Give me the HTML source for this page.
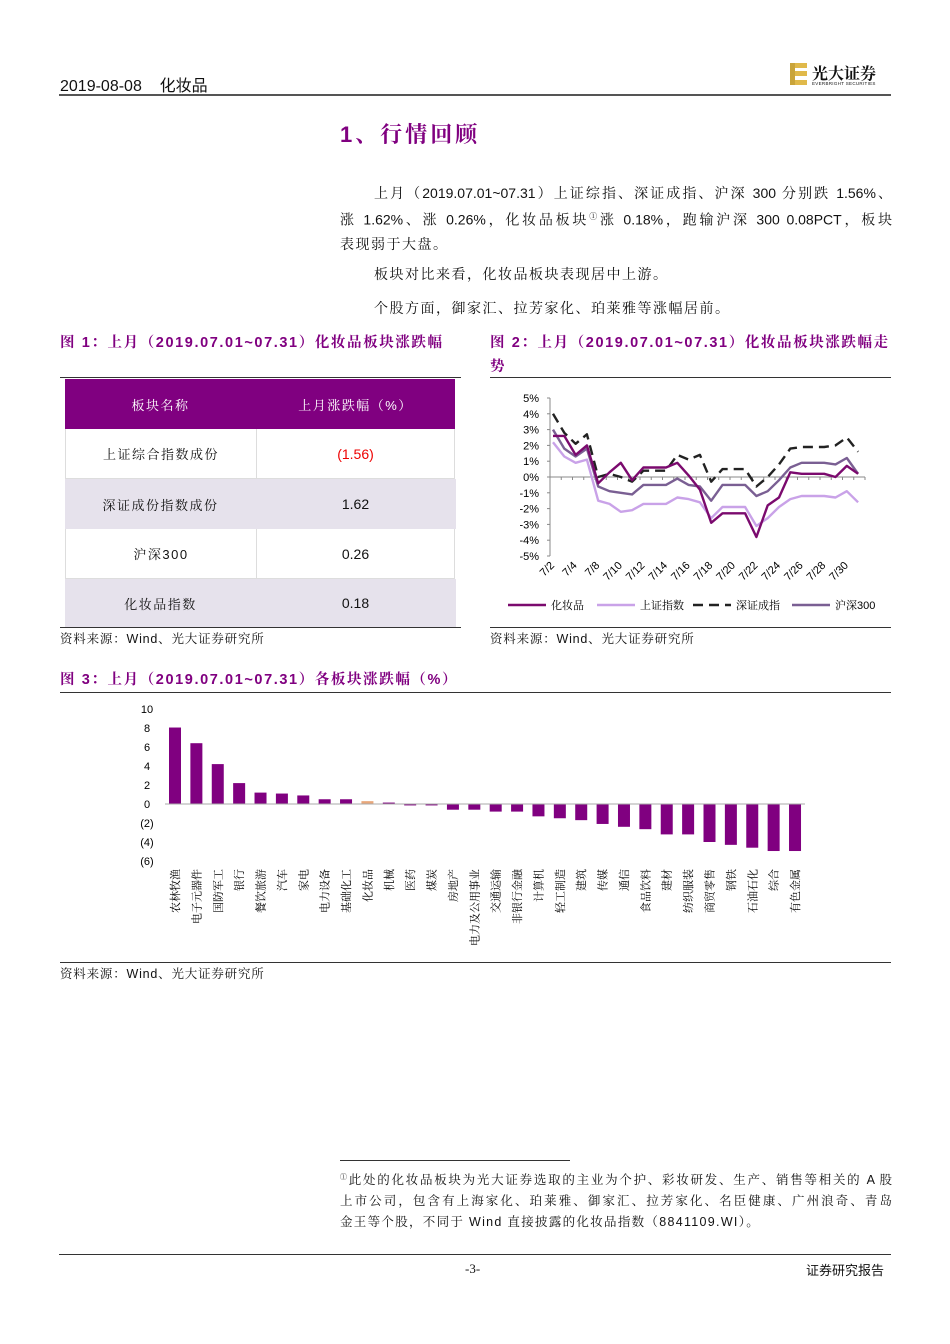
<!DOCTYPE html>
<html><head><meta charset="utf-8">
<style>
body{margin:0;background:#fff;}
#page{position:relative;width:950px;height:1344px;background:#fff;font-family:"Liberation Sans","Noto Serif CJK SC",serif;color:#111;overflow:hidden;}
.abs{position:absolute;}
.body{font-size:14px;line-height:24px;font-family:"Liberation Sans","Noto Serif CJK SC",serif;}
.jl{display:block;text-align:justify;text-align-last:justify;white-space:nowrap;}
.cap{font-size:14.5px;font-weight:bold;color:#800080;font-family:"Liberation Sans","Noto Serif CJK SC",serif;letter-spacing:1.6px;}
.src{font-size:12.5px;font-family:"Liberation Sans","Noto Serif CJK SC",serif;letter-spacing:0.8px;}
.cell{position:absolute;display:flex;align-items:center;justify-content:center;font-size:13px;letter-spacing:1.5px;}
</style></head><body>
<div id="page">
<div class="abs" style="left:60px;top:72px;font-size:16px;font-family:'Liberation Sans','Noto Sans CJK SC',sans-serif;">2019-08-08&nbsp;&nbsp;&nbsp; 化妆品</div>
<div class="abs" style="left:59px;top:94px;width:832px;height:2px;background:#555;"></div>
<div class="abs" style="left:790px;top:61px;width:100px;height:28px;">
 <div class="abs" style="left:0;top:2px;width:5px;height:22px;background:#c9a43a"></div>
 <div class="abs" style="left:5px;top:2px;width:12px;height:5px;background:#e0b94a"></div>
 <div class="abs" style="left:5px;top:10px;width:12px;height:5px;background:#e0b94a"></div>
 <div class="abs" style="left:5px;top:19px;width:12px;height:5px;background:#e0b94a"></div>
 <div class="abs" style="left:22px;top:0;font-size:16px;font-weight:bold;font-family:'Noto Serif CJK SC',serif;">光大证券</div>
 <div class="abs" style="left:22px;top:20px;font-size:4.5px;letter-spacing:0.3px;">EVERBRIGHT SECURITIES</div>
</div>
<div class="abs" style="left:340px;top:118px;font-size:22px;font-weight:bold;color:#800080;letter-spacing:3px;font-family:'Liberation Sans','Noto Serif CJK SC',serif;">1、行情回顾</div>
<div class="abs body" style="left:340px;top:181px;width:552px;">
 <span class="jl" style="padding-left:34px;">上月（2019.07.01~07.31）上证综指、深证成指、沪深 300 分别跌 1.56%、</span>
 <span class="jl">涨 1.62%、涨 0.26%，化妆品板块<sup style="font-size:8px">①</sup>涨 0.18%，跑输沪深 300 0.08PCT，板块</span>
 <span style="display:block;letter-spacing:1.5px;">表现弱于大盘。</span>
</div>
<div class="abs body" style="left:374px;top:262px;letter-spacing:1.5px;">板块对比来看，化妆品板块表现居中上游。</div>
<div class="abs body" style="left:374px;top:296px;letter-spacing:1.5px;">个股方面，御家汇、拉芳家化、珀莱雅等涨幅居前。</div>

<div class="abs cap" style="left:60px;top:331px;">图 1：上月（2019.07.01~07.31）化妆品板块涨跌幅</div>
<div class="abs cap" style="left:490px;top:331px;width:402px;line-height:24px;">图 2：上月（2019.07.01~07.31）化妆品板块涨跌幅走势</div>
<div class="abs" style="left:60px;top:377px;width:401px;height:1px;background:#333"></div>
<div class="abs" style="left:490px;top:377px;width:401px;height:1px;background:#333"></div>

<div class="abs" style="left:65px;top:379px;width:390px;height:248px;">
 <div class="cell" style="left:0;top:0;width:191px;height:50px;background:#800080;color:#fff;">板块名称</div>
 <div class="cell" style="left:191px;top:0;width:199px;height:50px;background:#800080;color:#fff;">上月涨跌幅（%）</div>
 <div class="cell" style="left:0;top:50px;width:190px;height:49px;border:1px solid #ddd;border-top:none;">上证综合指数成份</div>
 <div class="cell" style="left:191px;top:50px;width:197px;height:49px;border:1px solid #ddd;border-top:none;color:#e00;font-size:14px;letter-spacing:0;">(1.56)</div>
 <div class="cell" style="left:0;top:100px;width:391px;height:50px;background:#e6e2ec;"></div>
 <div class="cell" style="left:0;top:100px;width:191px;height:50px;">深证成份指数成份</div>
 <div class="cell" style="left:191px;top:100px;width:199px;height:50px;font-size:14px;letter-spacing:0;">1.62</div>
 <div class="cell" style="left:0;top:150px;width:190px;height:49px;border:1px solid #ddd;border-top:none;">沪深300</div>
 <div class="cell" style="left:191px;top:150px;width:197px;height:49px;border:1px solid #ddd;border-top:none;font-size:14px;letter-spacing:0;">0.26</div>
 <div class="cell" style="left:0;top:200px;width:391px;height:48px;background:#e6e2ec;"></div>
 <div class="cell" style="left:0;top:200px;width:191px;height:48px;">化妆品指数</div>
 <div class="cell" style="left:191px;top:200px;width:199px;height:48px;font-size:14px;letter-spacing:0;">0.18</div>
</div>
<div class="abs" style="left:60px;top:627px;width:401px;height:1px;background:#333"></div>
<div class="abs" style="left:490px;top:627px;width:401px;height:1px;background:#333"></div>
<div class="abs src" style="left:60px;top:629px;">资料来源：Wind、光大证券研究所</div>
<div class="abs src" style="left:490px;top:629px;">资料来源：Wind、光大证券研究所</div>

<svg class="abs" style="left:0;top:0" width="950" height="1344" id="lc"></svg>

<div class="abs cap" style="left:60px;top:668px;">图 3：上月（2019.07.01~07.31）各板块涨跌幅（%）</div>
<div class="abs" style="left:60px;top:692px;width:831px;height:1px;background:#333"></div>
<div class="abs" style="left:60px;top:962px;width:831px;height:1px;background:#333"></div>
<div class="abs src" style="left:60px;top:964px;">资料来源：Wind、光大证券研究所</div>

<div class="abs" style="left:340px;top:1160px;width:230px;height:1px;background:#333"></div>
<div class="abs" style="left:340px;top:1167px;width:552px;font-size:12.5px;line-height:21px;">
 <span class="jl"><sup style="font-size:7px">①</sup>此处的化妆品板块为光大证券选取的主业为个护、彩妆研发、生产、销售等相关的 A 股</span>
 <span class="jl">上市公司，包含有上海家化、珀莱雅、御家汇、拉芳家化、名臣健康、广州浪奇、青岛</span>
 <span style="display:block;letter-spacing:1.3px;">金王等个股，不同于 Wind 直接披露的化妆品指数（8841109.WI）。</span>
</div>
<div class="abs" style="left:59px;top:1254px;width:832px;height:1px;background:#333"></div>
<div class="abs" style="left:465px;top:1261px;font-size:13px;font-family:'Liberation Serif',serif;">-3-</div>
<div class="abs" style="left:806px;top:1260px;font-size:13px;font-family:'Liberation Sans','Noto Sans CJK SC',sans-serif;">证券研究报告</div>
</div>
<script>
const lineSeriesNames=["化妆品","上证指数","深证成指","沪深300"];
const cosmetics=[2.6,2.6,1.4,2.0,-0.4,0.3,0.9,-0.2,0.6,0.6,0.6,0.9,0.1,-0.8,-2.9,-2.3,-2.3,-2.3,-3.8,-1.8,-1.3,0.3,0.2,0.2,0.2,0.0,0.7,0.2];
const shIndex=[2.2,1.3,0.9,1.1,-1.5,-1.7,-2.2,-2.1,-1.7,-1.7,-1.7,-1.3,-1.4,-1.6,-2.6,-1.9,-1.9,-1.9,-3.1,-2.6,-1.9,-1.4,-1.2,-1.2,-1.2,-1.3,-0.9,-1.6];
const szIndex=[4.0,2.8,2.1,2.7,0.0,0.2,0.0,-0.3,0.4,0.4,0.4,1.4,1.1,1.4,-0.3,0.5,0.5,0.5,-0.6,0.0,0.8,1.8,1.9,1.9,1.9,2.0,2.5,1.6];
const hs300=[3.0,1.8,1.3,1.8,-0.6,-0.9,-1.0,-1.1,-0.5,-0.5,-0.5,-0.1,-0.5,-0.6,-1.5,-0.5,-0.5,-0.5,-1.2,-0.9,-0.2,0.6,0.9,0.9,0.9,0.8,1.2,0.2];
const dateLabels=["7/2","7/4","7/8","7/10","7/12","7/14","7/16","7/18","7/20","7/22","7/24","7/26","7/28","7/30"];
const yTicksLine=[5,4,3,2,1,0,-1,-2,-3,-4,-5];

const barCategories=["农林牧渔","电子元器件","国防军工","银行","餐饮旅游","汽车","家电","电力设备","基础化工","化妆品","机械","医药","煤炭","房地产","电力及公用事业","交通运输","非银行金融","计算机","轻工制造","建筑","传媒","通信","食品饮料","建材","纺织服装","商贸零售","钢铁","石油石化","综合","有色金属"];
const barValues=[8.05,6.4,4.2,2.2,1.2,1.1,0.9,0.5,0.5,0.3,0.15,-0.15,-0.15,-0.6,-0.6,-0.8,-0.8,-1.3,-1.5,-1.7,-2.1,-2.4,-2.65,-3.2,-3.2,-4.0,-4.3,-4.6,-4.95,-4.95];
const barTickLabels=["10","8","6","4","2","0","(2)","(4)","(6)"];
const barTickValues=[10,8,6,4,2,0,-2,-4,-6];

const NS="http://www.w3.org/2000/svg";
const svg=document.getElementById('lc');
function mk(t,a,p){const e=document.createElementNS(NS,t);for(const k in a)e.setAttribute(k,a[k]);(p||svg).appendChild(e);return e;}
const lx=i=>553+i*11.3, ly=v=>477-v*15.8;
const axisX0=550, axisX1=865;
let g=mk('g',{});


mk('line',{x1:axisX0,y1:ly(5),x2:axisX0,y2:ly(-5),stroke:'#888','stroke-width':1},g);
yTicksLine.forEach(v=>{
 mk('line',{x1:axisX0-3,y1:ly(v),x2:axisX0,y2:ly(v),stroke:'#888'},g);
 const t=mk('text',{x:axisX0-11,y:ly(v)+4,'text-anchor':'end','font-size':11,'font-family':'Liberation Sans'},g);
 t.textContent=v+'%';
 
 
});
mk('line',{x1:axisX0,y1:ly(0),x2:axisX1,y2:ly(0),stroke:'#888'},g);
for(let i=0;i<=28;i++){mk('line',{x1:axisX0+i*11.25,y1:ly(0),x2:axisX0+i*11.25,y2:ly(0)+3,stroke:'#888'},g);}
dateLabels.forEach((d,k)=>{
 const x=lx(2*k)+2,y=566;
 const t=mk('text',{x:x,y:y,'text-anchor':'end','font-size':11,'font-family':'Liberation Sans',transform:`rotate(-45 ${x} ${y})`},g);
 t.textContent=d;
 
 
});
const styles=[{c:'#7b0a6e',d:'',n:'cosmetics-line'},{c:'#c9a2e8',d:'',n:'sh-index-line'},{c:'#222',d:'10,6',n:'sz-index-line'},{c:'#7a5f93',d:'',n:'hs300-line'}];
const order=[[shIndex,1],[hs300,3],[szIndex,2],[cosmetics,0]];
order.forEach(([arr,si])=>{
 const s=styles[si];
 const pts=arr.map((v,i)=>lx(i).toFixed(1)+','+ly(v).toFixed(1)).join(' ');
 const p=mk('polyline',{points:pts,fill:'none',stroke:s.c,'stroke-width':2.4,'stroke-dasharray':s.d,'stroke-linejoin':'round'});
 
 
});
const legX=[508,597,693,792];
lineSeriesNames.forEach((n,i)=>{
 const s=styles[i];
 const lg=mk('g',{});
 
 
 mk('line',{x1:legX[i],y1:605,x2:legX[i]+38,y2:605,stroke:s.c,'stroke-width':2.6,'stroke-dasharray':s.d},lg);
 const t=mk('text',{x:legX[i]+43,y:609,'font-size':11,'font-family':'Liberation Sans, Noto Serif CJK SC, serif'},lg);
 t.textContent=n;
});
const by=v=>804-v*9.5, bx=i=>175+i*21.38;
const bg=mk('g',{});


barTickValues.forEach((v,i)=>{
 const t=mk('text',{x:147,y:by(v)+4,'text-anchor':'middle','font-size':11,'font-family':'Liberation Sans'},bg);
 t.textContent=barTickLabels[i];
 
 
});
barValues.forEach((v,i)=>{
 const y0=by(Math.max(v,0)),h=Math.abs(by(v)-by(0));
 const r=mk('rect',{x:bx(i)-6,y:y0,width:12,height:Math.max(h,1),fill:barCategories[i]==='化妆品'?'#e8a77a':'#800080'},bg);
 
 
 const x=bx(i)+4,y=869;
 const t=mk('text',{x:x,y:y,'font-size':11,'font-family':'Noto Serif CJK SC, serif',transform:`rotate(-90 ${x} ${y})`,'text-anchor':'end'},bg);
 t.textContent=barCategories[i];
 
 
});
mk('line',{x1:165,y1:by(0),x2:805,y2:by(0),stroke:'#aaa'},bg);
</script>
</body></html>
